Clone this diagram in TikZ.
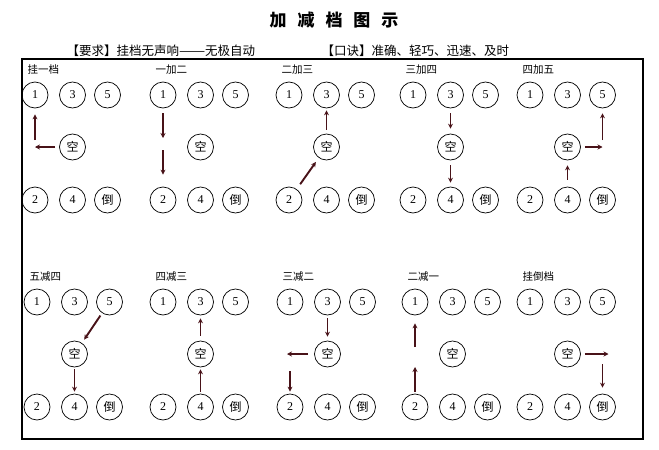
\documentclass[tikz,border=0pt]{standalone}
\usepackage{fontspec}
\usepackage{graphicx}
\setmainfont{Liberation Serif}
\newfontfamily\cjk{Noto Sans CJK SC}
\usetikzlibrary{arrows.meta}
\definecolor{shiftred}{RGB}{72,18,24}
\tikzset{
  gear/.style={draw, circle, line width=0.7pt, minimum size=26pt, inner sep=0pt, font=\fontsize{12}{12}\selectfont},
  shiftarrow/.style={draw=shiftred, line width=1.9pt, -{Stealth[length=5pt, width=5pt]}},
  plabel/.style={anchor=west, font=\cjk\fontsize{10.5}{11}\selectfont}
}

\begin{document}
\begin{tikzpicture}[x=1pt, y=-1pt]
    \useasboundingbox (0,0) rectangle (659,450);

    % Title and the two lines under it
    \node[font=\cjk\bfseries\fontsize{17}{17}\selectfont] (title) at (334,20) {加\hspace{11pt}减\hspace{11pt}档\hspace{11pt}图\hspace{11pt}示};
    \node[anchor=west, font=\cjk\fontsize{12.5}{12.5}\selectfont] (rule) at (63,51) {【要求】挂档无声响\scalebox{1.25}[1]{——}无极自动};
    \node[anchor=west, font=\cjk\fontsize{12.5}{12.5}\selectfont] (motto) at (318,51) {【口诀】准确、轻巧、迅速、及时};

    % Frame
    \draw[line width=1.1pt] (22,59) rectangle (643,439);

    % Gear positions of every panel
    \foreach \p/\x/\y/\lab in {t1/35/95/挂一档, t2/163/95/一加二, t3/289/95/二加三, t4/413/95/三加四, t5/530/95/四加五,
                               b1/37/302/五减四, b2/163/302/四减三, b3/290/302/三减二, b4/415/302/二减一, b5/530/302/挂倒档} {
        \node[plabel] (\p lab) at (\x-11,\y-25) {\lab};
        \node[gear] (\p n1) at (\x,\y) {1};
        \node[gear] (\p n3) at (\x+37.5,\y) {3};
        \node[gear] (\p n5) at (\x+72.5,\y) {5};
        \node[gear, font=\cjk\fontsize{12}{12}\selectfont] (\p k) at (\x+37.5,\y+52) {空};
        \node[gear] (\p n2) at (\x,\y+105) {2};
        \node[gear] (\p n4) at (\x+37.5,\y+105) {4};
        \node[gear, font=\cjk\fontsize{12}{12}\selectfont] (\p r) at (\x+72.5,\y+105) {倒};
    }

    % 挂一档
    \coordinate (t1c) at (t1n1 |- t1k);
    \draw[shiftarrow, shorten <=4pt] (t1k) -- (t1c);
    \draw[shiftarrow, shorten <=7pt, shorten >=6pt] (t1c) -- (t1n1);

    % 一加二
    \coordinate (t2c) at (t2n1 |- t2k);
    \draw[shiftarrow, shorten <=5pt, shorten >=9pt] (t2n1) -- (t2c);
    \draw[shiftarrow, shorten <=3pt, shorten >=12pt] (t2c) -- (t2n2);

    % 二加三
    \draw[shiftarrow, shorten <=6pt, shorten >=5pt] (t3n2) -- (t3k);
    \draw[shiftarrow, shorten <=4pt, shorten >=2pt] (t3k) -- (t3n3);

    % 三加四
    \draw[shiftarrow, shorten <=5pt, shorten >=5pt] (t4n3) -- (t4k);
    \draw[shiftarrow, shorten <=5pt, shorten >=4pt] (t4k) -- (t4n4);

    % 四加五
    \coordinate (t5c) at (t5n5 |- t5k);
    \draw[shiftarrow, shorten <=7pt, shorten >=5pt] (t5n4) -- (t5k);
    \draw[shiftarrow, shorten <=4pt] (t5k) -- (t5c);
    \draw[shiftarrow, shorten <=7pt, shorten >=5pt] (t5c) -- (t5n5);

    % 五减四
    \draw[shiftarrow, shorten <=3pt, shorten >=4pt] (b1n5) -- (b1k);
    \draw[shiftarrow, shorten <=2pt, shorten >=2pt] (b1k) -- (b1n4);

    % 四减三
    \draw[shiftarrow, shorten <=2pt, shorten >=2pt] (b2n4) -- (b2k);
    \draw[shiftarrow, shorten <=5pt, shorten >=3pt] (b2k) -- (b2n3);

    % 三减二
    \coordinate (b3c) at (b3n1 |- b3k);
    \draw[shiftarrow, shorten <=3pt, shorten >=4pt] (b3n3) -- (b3k);
    \draw[shiftarrow, shorten <=6pt, shorten >=-3pt] (b3k) -- (b3c);
    \draw[shiftarrow, shorten <=17pt, shorten >=2pt] (b3c) -- (b3n2);

    % 二减一
    \coordinate (b4c) at (b4n1 |- b4k);
    \draw[shiftarrow, shorten <=2pt, shorten >=13pt] (b4n2) -- (b4c);
    \draw[shiftarrow, shorten <=7pt, shorten >=8pt] (b4c) -- (b4n1);

    % 挂倒档
    \coordinate (b5c) at (b5r |- b5k);
    \draw[shiftarrow, shorten <=4pt, shorten >=-6pt] (b5k) -- (b5c);
    \draw[shiftarrow, shorten <=10pt, shorten >=6pt] (b5c) -- (b5r);
\end{tikzpicture}
\end{document}
